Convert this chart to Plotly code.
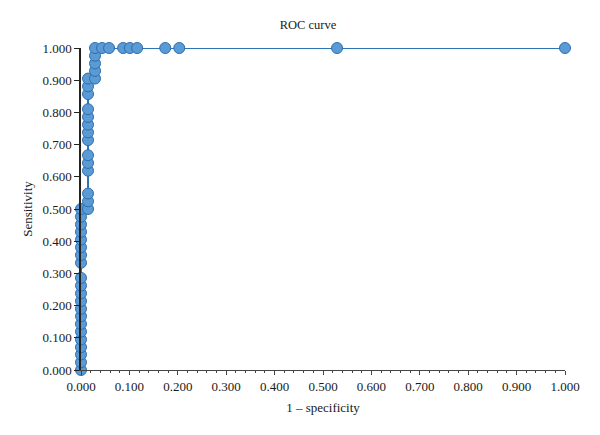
import plotly.graph_objects as go

# 1 - specificity values (x) and sensitivity values (y), in ROC order
fpr = ([0.0]*21 + [0.0145]*14 + [0.029]*5
       + [0.0435, 0.058, 0.087, 0.101, 0.116, 0.174, 0.203, 0.529, 1.0])
tpr = ([0.0, 0.024, 0.048, 0.071, 0.095, 0.119, 0.143, 0.167, 0.190, 0.214, 0.238, 0.262, 0.286,
        0.333, 0.357, 0.381, 0.405, 0.429, 0.452, 0.476, 0.5]
       + [0.5, 0.524, 0.548, 0.619, 0.643, 0.667, 0.714, 0.738, 0.762, 0.786, 0.810, 0.857, 0.881, 0.905]
       + [0.905, 0.929, 0.952, 0.976, 1.0]
       + [1.0]*9)

tick_vals = [i/10 for i in range(11)]
tick_text = [f"{v:.3f}" for v in tick_vals]

font_family = "Liberation Serif, DejaVu Serif, serif"

fig = go.Figure()
fig.add_trace(go.Scatter(
    x=fpr, y=tpr, mode="lines+markers",
    line=dict(color="#2E75B6", width=2),
    marker=dict(size=11, color="#5B9BD5", line=dict(color="#2F6DAE", width=1)),
    cliponaxis=False, showlegend=False,
))

fig.update_layout(
    width=600, height=435,
    margin=dict(l=73, r=43, t=40, b=73),
    paper_bgcolor="white", plot_bgcolor="white",
    font=dict(family=font_family, size=13, color="#1a1a1a"),
    title=dict(text="ROC curve", x=0.5, xanchor="center", y=1 - 17/435, yanchor="middle",
               font=dict(family=font_family, size=12.5, color="#1a1a1a")),
)
fig.update_xaxes(
    range=[0, 1], tickvals=tick_vals, ticktext=tick_text,
    showgrid=False, zeroline=False, showline=True, linecolor="#444", linewidth=1,
    ticks="outside", ticklen=4, tickcolor="#444",
    minor=dict(ticks="outside", dtick=0.02, ticklen=2, tickcolor="#444", showgrid=False),
    title=dict(text="1 – specificity", font=dict(size=13), standoff=10),
)
fig.update_yaxes(
    range=[0, 1], tickvals=tick_vals, ticktext=tick_text,
    showgrid=False, zeroline=False, showline=True, linecolor="#222", linewidth=1.5,
    ticks="outside", ticklen=5, tickcolor="#222",
    title=dict(text="Sensitivity", font=dict(size=13), standoff=7),
)

fig.write_html("out.html")
